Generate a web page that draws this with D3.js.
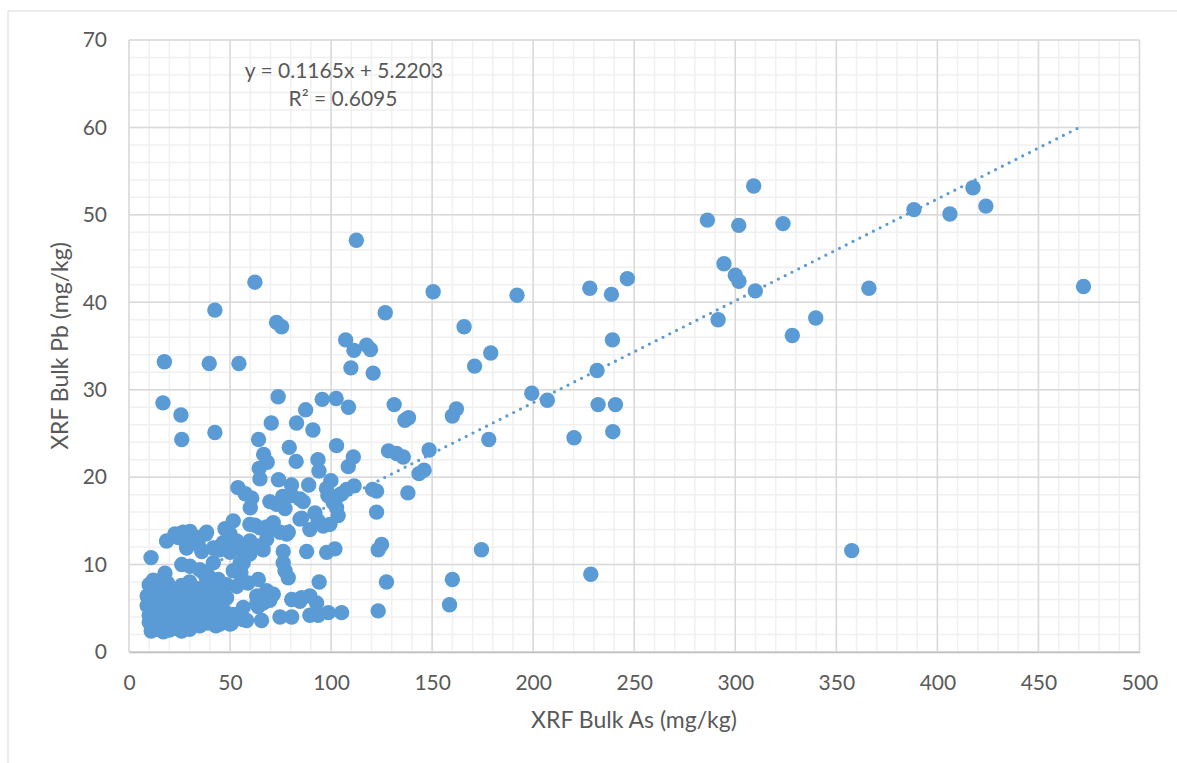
<!DOCTYPE html>
<html>
<head>
<meta charset="utf-8">
<script src="https://cdn.jsdelivr.net/npm/d3@7"></script>
<style>
  body { margin: 0; background: #fff; }
  svg text { font-family: Lato, "Open Sans", sans-serif; fill: #595959; }
</style>
</head>
<body>
<div id="chart"></div>
<script>
// As (mg/kg), Pb (mg/kg) pairs
const highAs = [
  [192, 40.8], [199.3, 29.6], [207, 28.8], [220.2, 24.5], [228, 41.6], [228.5, 8.9],
  [231.6, 32.2], [232.1, 28.3], [238.7, 40.9], [239.2, 35.7], [239.4, 25.2], [240.7, 28.3],
  [246.6, 42.7], [286.2, 49.4], [291.5, 38.0], [294.4, 44.4], [300, 43.1], [301.7, 48.8],
  [301.8, 42.4], [309.1, 53.3], [309.9, 41.3], [323.6, 49.0], [328.2, 36.2], [339.8, 38.2],
  [357.6, 11.6], [366.1, 41.6], [388.4, 50.6], [406.2, 50.1], [417.6, 53.1], [424, 51.0],
  [472.3, 41.8]
];

const midAs = [
  [122.5, 16.0], [123.3, 11.7], [125, 12.3], [127.4, 8.0], [123.3, 4.7], [126.8, 38.8],
  [128.4, 23.0], [131.2, 28.3], [132.4, 22.7], [135.7, 22.3], [136.5, 26.5], [138.3, 26.8],
  [138, 18.2], [143.5, 20.4], [146, 20.8], [148.5, 23.1], [150.5, 41.2], [158.6, 5.4],
  [160, 8.3], [160, 27.0], [162, 27.8], [165.8, 37.2], [171, 32.7], [174.4, 11.7],
  [178, 24.3], [179, 34.2], [120.5, 18.6], [122.5, 18.4], [120.8, 31.9], [119.5, 34.6],
  [117.5, 35.1]
];

const upperScatter = [
  [17.5, 33.2], [16.8, 28.5], [25.7, 27.1], [26.1, 24.3], [39.7, 33.0], [42.5, 39.1],
  [42.5, 25.1], [54.4, 33.0], [62.3, 42.3], [73, 37.7], [75.5, 37.2], [64.1, 24.3],
  [66.6, 22.6], [68.4, 21.7], [64.4, 21.0], [70.4, 26.2], [73.8, 29.2], [79.3, 23.4],
  [82.7, 21.8], [82.9, 26.2], [87.4, 27.7], [91, 25.4], [93.5, 22.0], [94, 20.7],
  [95.6, 28.9], [102.5, 29.0], [102.7, 23.6], [107.2, 35.7], [108.6, 28.0], [108.5, 21.2],
  [109.8, 32.5], [111, 22.3], [111.3, 34.5], [112.5, 47.1]
];

const midCluster = [
  [53.9, 18.8], [57.5, 18.1], [60, 16.5], [60.7, 17.6], [69.7, 17.2], [73, 16.9],
  [76, 17.8], [80.5, 17.9], [84.6, 17.5], [86.2, 17.2], [80.4, 19.1], [88.9, 19.1],
  [97.7, 18.7], [98.4, 17.9], [99.9, 19.6], [101, 17.1], [102.7, 16.5], [103.5, 15.6],
  [104.4, 18.0], [105.2, 18.1], [107.7, 18.6], [111.4, 19.0], [64.8, 19.8], [74, 19.7],
  [77.2, 16.4], [92, 15.9], [93.6, 15.0], [85.4, 15.3], [84.6, 15.2], [89.5, 14.0],
  [99.4, 14.6], [96.1, 14.4], [51.6, 15.0], [47.5, 14.1], [62.3, 14.5], [64.8, 14.2],
  [68.1, 14.3], [71.4, 14.8], [59.8, 14.6], [69.7, 14.0], [74.7, 13.7], [78, 13.5],
  [78.8, 13.7], [68.1, 12.9], [64, 12.1], [59.8, 12.7], [63.2, 12.1], [66.4, 11.7],
  [59.8, 11.2], [56.5, 10.2], [56.5, 11.5], [50, 11.4], [46.6, 12.3], [76.3, 11.5],
  [87.9, 11.5], [97.8, 11.4], [101.9, 11.8], [76.3, 10.2], [77.2, 9.3], [78.8, 8.5],
  [64, 8.3], [94.1, 8.0], [55.4, 9.1], [58.8, 7.9], [53.3, 7.5], [55.7, 8.3]
];

const lowCluster = [
  [68.1, 7.0], [69.7, 5.9], [63.2, 5.5], [56.5, 5.1], [51.6, 4.3], [80.5, 6.0],
  [84.6, 5.8], [89.5, 6.4], [92.8, 5.6], [85.4, 6.2], [74.7, 4.0], [80.5, 4.0],
  [89.5, 4.2], [93.6, 4.2], [98.6, 4.5], [105.2, 4.5], [58.2, 3.6], [65.6, 3.6],
  [50, 3.2], [45, 3.2], [63.2, 6.4], [71.4, 6.6], [66.4, 5.6], [63.9, 5.2],
  [35.1, 6.6], [41.7, 5.8], [45, 4.1], [50.8, 3.3], [56.5, 3.7], [45, 7.0], [48.3, 6.2]
];

const leftCluster = [
  [10.9, 10.8], [17.8, 9.0], [18.6, 12.7], [24.4, 13.1], [28.5, 12.3], [32.6, 12.7],
  [38, 13.5], [43.4, 11.9], [46.6, 12.5], [50, 13.5], [53.3, 12.7], [22.7, 13.5],
  [26.8, 13.7], [30.2, 13.8], [38.4, 13.7], [34.3, 12.3], [36, 11.5], [41.7, 11.9],
  [45, 11.7], [28.5, 11.9], [26.1, 10.0], [30.2, 9.8], [35.1, 9.4], [36.7, 9.1],
  [41.7, 10.2], [39.2, 8.7], [44.2, 8.3], [48.3, 7.7], [51.6, 9.3], [55, 10.2],
  [38.4, 8.3], [41.7, 7.9], [45, 7.5], [33.5, 13.1], [25.2, 13.5]
];

const denseBlob = [
  [10, 7.7], [12, 8.2], [15, 7.4], [19, 7.9], [22, 7.1], [26, 7.6], [30, 8.0], [33, 7.3], [38, 7.0], [42, 7.6],
  [9, 6.4], [11, 6.8], [14, 6.1], [17, 6.6], [20, 6.9], [24, 6.3], [27, 6.7], [31, 6.2], [36, 6.5], [40, 6.0], [44, 6.8],
  [9, 5.3], [12, 5.6], [15, 5.0], [18, 5.4], [21, 5.8], [23, 4.9], [28, 5.2], [32, 5.5], [35, 4.8], [39, 5.1], [43, 5.3], [47, 4.7],
  [10, 4.2], [13, 4.6], [16, 3.9], [19, 4.4], [22, 4.0], [25, 4.5], [29, 3.8], [33, 4.2], [37, 3.7], [41, 4.3], [46, 3.9],
  [10, 3.4], [12, 3.0], [15, 3.2], [18, 2.8], [21, 3.3], [24, 2.9], [27, 3.1], [31, 3.4], [35, 3.0], [39, 3.3], [43, 3.0],
  [11, 2.4], [14, 2.6], [17, 2.3], [20, 2.5], [23, 2.7], [26, 2.4], [30, 2.6]
];

const xTicks = [0, 50, 100, 150, 200, 250, 300, 350, 400, 450, 500];
const yTicks = [0, 10, 20, 30, 40, 50, 60, 70];
const trendSlope = 0.1165;
const trendIntercept = 5.2203;
const equationLabel = 'y = 0.1165x + 5.2203';
const r2Label = 'R² = 0.6095';

const points = [].concat(denseBlob, leftCluster, lowCluster, midCluster, upperScatter, midAs, highAs);

const width = 1177, height = 763;
const blue = '#5B9BD5';

const svg = d3.select('#chart').append('svg')
  .attr('width', width)
  .attr('height', height);

// outer frame (top + left edge visible)
svg.append('line').attr('x1', 8).attr('x2', width).attr('y1', 11).attr('y2', 11)
  .attr('stroke', '#d9d9d9').attr('stroke-width', 1);
svg.append('line').attr('x1', 8).attr('x2', 8).attr('y1', 11).attr('y2', height)
  .attr('stroke', '#d9d9d9').attr('stroke-width', 1);

const x = d3.scaleLinear().domain([0, 500]).range([129, 1139.5]);
const y = d3.scaleLinear().domain([0, 70]).range([652, 40]);

// minor gridlines
const grid = svg.append('g');
grid.selectAll('.vminor').data(d3.range(0, 501, 10)).enter().append('line')
  .attr('x1', d => x(d)).attr('x2', d => x(d)).attr('y1', y(0)).attr('y2', y(70))
  .attr('stroke', '#f0f0f0').attr('stroke-width', 1.5);
grid.selectAll('.hminor').data(d3.range(0, 71, 2)).enter().append('line')
  .attr('y1', d => y(d)).attr('y2', d => y(d)).attr('x1', x(0)).attr('x2', x(500))
  .attr('stroke', '#f0f0f0').attr('stroke-width', 1.5);

// major gridlines
grid.selectAll('.vmajor').data(xTicks).enter().append('line')
  .attr('x1', d => x(d)).attr('x2', d => x(d)).attr('y1', y(0)).attr('y2', y(70))
  .attr('stroke', '#d9d9d9').attr('stroke-width', 1.5);
grid.selectAll('.hmajor').data(yTicks).enter().append('line')
  .attr('y1', d => y(d)).attr('y2', d => y(d)).attr('x1', x(0)).attr('x2', x(500))
  .attr('stroke', '#d9d9d9').attr('stroke-width', 1.5);

// x axis
const xAxis = svg.append('g')
  .attr('transform', `translate(0,${y(0)})`)
  .call(d3.axisBottom(x).tickValues(xTicks).tickSize(0).tickPadding(23));
xAxis.select('.domain').attr('stroke', '#bfbfbf').attr('stroke-width', 1.5);
xAxis.selectAll('text').style('font-size', '21px').style('font-family', 'Lato, sans-serif').attr('fill', '#595959');

// y axis
const yAxis = svg.append('g')
  .attr('transform', `translate(${x(0)},0)`)
  .call(d3.axisLeft(y).tickValues(yTicks).tickSize(0).tickPadding(22));
yAxis.select('.domain').remove();
yAxis.selectAll('text').style('font-size', '21px').style('font-family', 'Lato, sans-serif').attr('fill', '#595959');

// points
svg.append('g').selectAll('circle').data(points).enter().append('circle')
  .attr('cx', d => x(d[0]))
  .attr('cy', d => y(d[1]))
  .attr('r', 7.7)
  .attr('fill', blue);

// linear trendline
const xExtent = d3.extent(points, d => d[0]);
svg.append('line')
  .attr('x1', x(xExtent[0])).attr('y1', y(trendSlope * xExtent[0] + trendIntercept))
  .attr('x2', x(xExtent[1])).attr('y2', y(trendSlope * xExtent[1] + trendIntercept))
  .attr('stroke', blue)
  .attr('stroke-width', 3.2)
  .attr('stroke-linecap', 'round')
  .attr('stroke-dasharray', '0 7.6');

// equation label
svg.append('text').attr('x', 344).attr('y', 78).attr('text-anchor', 'middle')
  .style('font-size', '21px').text(equationLabel);
svg.append('text').attr('x', 343).attr('y', 106).attr('text-anchor', 'middle')
  .style('font-size', '21px').text(r2Label);

// axis titles
svg.append('text').attr('x', 634).attr('y', 728).attr('text-anchor', 'middle')
  .style('font-size', '23px').text('XRF Bulk As (mg/kg)');
svg.append('text').attr('transform', `translate(68,${(y(0) + y(70)) / 2}) rotate(-90)`)
  .attr('text-anchor', 'middle')
  .style('font-size', '23px').text('XRF Bulk Pb (mg/kg)');
</script>
</body>
</html>
